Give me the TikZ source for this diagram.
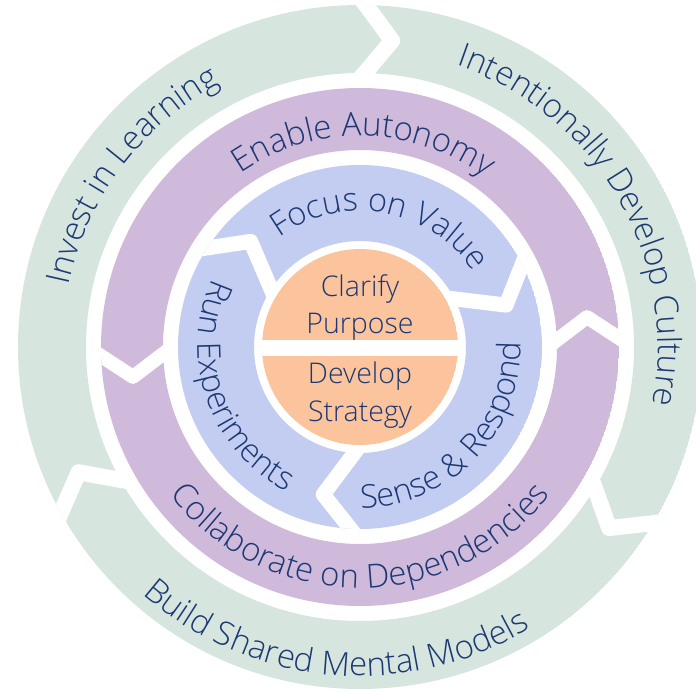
\documentclass[tikz,border=0pt]{standalone}
\usepackage{fontspec}
\setmainfont{Open Sans Light}
\usetikzlibrary{decorations.text,calc}
\definecolor{ringgreen}{RGB}{214,230,222}
\definecolor{ringpurple}{RGB}{207,186,220}
\definecolor{ringblue}{RGB}{194,205,241}
\definecolor{coreorange}{RGB}{251,196,156}
\definecolor{txt}{RGB}{28,56,116}
\newcommand{\gfont}{\fontsize{33pt}{39pt}\selectfont}
\newcommand{\pfont}{\fontsize{33pt}{39pt}\selectfont}
\newcommand{\bfont}{\fontsize{32.5pt}{39pt}\selectfont}
\begin{document}
\begin{tikzpicture}[x=1pt,y=1pt,
  gapline/.style={white, line width=#1, line join=round},
  ringtext/.style={decorate, decoration={text along path, text align=center, text color=txt}},
  coretext/.style={text=txt, font=\fontsize{28.5pt}{37pt}\selectfont, inner sep=0pt, anchor=base}]
\useasboundingbox (-360,-344) rectangle (336,347);
% green ring
\begin{scope}
  \clip (0,0) circle[radius=342pt];
  \fill[ringgreen, even odd rule] (0,0) circle[radius=342pt] (0,0) circle[radius=274pt];
  \foreach \a in {89,-31,209}{
    \coordinate (t) at (\a-5:308pt);
    \coordinate (o) at (\a:342pt);
    \coordinate (i) at (\a:274pt);
    \draw[gapline=16pt] ($(t)!1.6!(o)$) -- (t) -- ($(t)!1.6!(i)$);
  }
\end{scope}
% purple ring
\begin{scope}
  \clip (0,0) circle[radius=259pt];
  \fill[ringpurple, even odd rule] (0,0) circle[radius=259pt] (0,0) circle[radius=197pt];
  \foreach \a in {2,182}{
    \coordinate (t) at (\a+5.5:229pt);
    \coordinate (o) at (\a:259pt);
    \coordinate (i) at (\a:197pt);
    \draw[gapline=14pt] ($(t)!1.6!(o)$) -- (t) -- ($(t)!1.6!(i)$);
  }
\end{scope}
% blue ring
\begin{scope}
  \clip (0,0) circle[radius=182pt];
  \fill[ringblue, even odd rule] (0,0) circle[radius=182pt] (0,0) circle[radius=106pt];
  \foreach \a in {147,27,-93}{
    \coordinate (t) at (\a-11:152pt);
    \coordinate (o) at (\a:182pt);
    \coordinate (i) at (\a:106pt);
    \draw[gapline=15pt] ($(t)!1.6!(o)$) -- (t) -- ($(t)!1.6!(i)$);
  }
\end{scope}
% core
\begin{scope}
  \clip (0,0) circle[radius=98pt];
  \fill[coreorange] (0,0) circle[radius=98pt];
  \fill[white] (-100,-9) rectangle (100,7);
\end{scope}
% ring texts
\path[ringtext, decoration={text={|\gfont|Invest in Learning}}] (223:298pt) arc[start angle=223, end angle=63, radius=298pt];
\path[ringtext, decoration={text={|\gfont|Intentionally Develop Culture}}] (110:298pt) arc[start angle=110, end angle=-50, radius=298pt];
\path[ringtext, decoration={text={|\gfont|Build Shared Mental Models}}] (185:329pt) arc[start angle=185, end angle=345, radius=329pt];
\path[ringtext, decoration={text={|\pfont|Enable Autonomy}}] (169:211pt) arc[start angle=169, end angle=9, radius=211pt];
\path[ringtext, decoration={text={|\pfont|Collaborate on Dependencies}}] (190:241pt) arc[start angle=190, end angle=350, radius=241pt];
\path[ringtext, decoration={text={|\bfont|Focus on Value}}] (160:136pt) arc[start angle=160, end angle=0, radius=136pt];
\path[ringtext, decoration={text={|\bfont|Run Experiments}}] (119:162pt) arc[start angle=119, end angle=279, radius=162pt];
\path[ringtext, decoration={text={|\bfont|Sense {\&} Respond}}] (-124:161pt) arc[start angle=-124, end angle=36, radius=161pt];
% core texts
\node[coretext] (clarify) at (0,51) {Clarify};
\node[coretext] (purpose) at (0,14) {Purpose};
\node[coretext] (develop) at (0,-36) {Develop};
\node[coretext] (strategy) at (0,-74) {Strategy};
\end{tikzpicture}
\end{document}
